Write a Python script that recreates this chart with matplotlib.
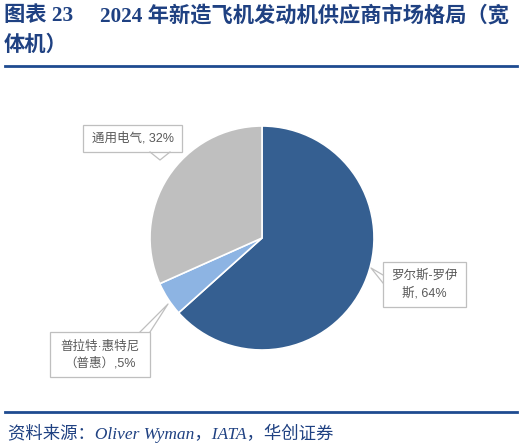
import matplotlib.pyplot as plt
from matplotlib.patches import Rectangle

labels = ["罗尔斯-罗伊\n斯, 64%", "普拉特·惠特尼\n（普惠）,5%", "通用电气, 32%"]
shares = [64, 5, 32]
colors = ["#355F91", "#8DB4E3", "#BFBFBF"]

title_a = "图表 23"
title_b = "2024 年新造飞机发动机供应商市场格局（宽"
title_2 = "体机）"
source = "资料来源：Oliver Wyman，IATA，华创证券"

navy = "#1F4182"
rule_blue = "#1E4B90"
label_gray = "#595959"
sans_cjk = ["Liberation Sans", "Noto Sans CJK SC"]
serif_cjk = ["Liberation Serif", "Noto Sans CJK SC"]

fig = plt.figure(figsize=(5.24, 4.48), dpi=100)
ax = fig.add_axes([0, 0, 1, 1])

# pie laid out in pixel coords (y up)
cx, cy, r = 262, 448 - 238, 112
ax.pie(shares, colors=colors, startangle=90, counterclock=False,
       center=(cx, cy), radius=r,
       wedgeprops=dict(edgecolor="white", linewidth=1.2))
ax.set_xlim(0, 524)
ax.set_ylim(0, 448)
ax.set_aspect("equal")
ax.axis("off")

# title and rules
tkw = dict(fontsize=15.3, fontweight="bold", color=navy, family=serif_cjk,
           va="center", ha="left")
ax.text(4, 448 - 16, title_a, **tkw)
ax.text(100, 448 - 16, title_b, **tkw)
ax.text(4, 448 - 46, title_2, **tkw)
ax.plot([5, 517], [448 - 66, 448 - 66], color=rule_blue, lw=2)
ax.plot([5, 517], [448 - 412, 448 - 412], color=rule_blue, lw=2)
ax.text(8, 448 - 433, source, fontsize=12.5, style="italic", color=navy,
        family=serif_cjk, va="center", ha="left")

# callout boxes: (x0, y_top, w, h, text, pointer)
boxes = [
    (383, 262, 83, 45, labels[0], [(383, 275), (371, 268), (383, 283)]),
    (50, 332, 100, 45, labels[1], [(140, 332), (168, 304), (150, 332)]),
    (83, 125, 99, 27, labels[2], [(150, 152), (160, 160), (170, 152)]),
]
for x0, yt, w, h, txt, ptr in boxes:
    ax.add_patch(Rectangle((x0, 448 - yt - h), w, h, facecolor="white",
                           edgecolor="#BFBFBF", lw=0.9, zorder=3))
    px = [p[0] for p in ptr]
    py = [448 - p[1] for p in ptr]
    ax.plot(px, py, color="#BFBFBF", lw=0.9, zorder=3)
    ax.text(x0 + w / 2, 448 - yt - h / 2, txt, fontsize=9, color=label_gray,
            family=sans_cjk, ha="center", va="center", linespacing=1.5,
            zorder=4)

fig.savefig("out.png", dpi=100)
